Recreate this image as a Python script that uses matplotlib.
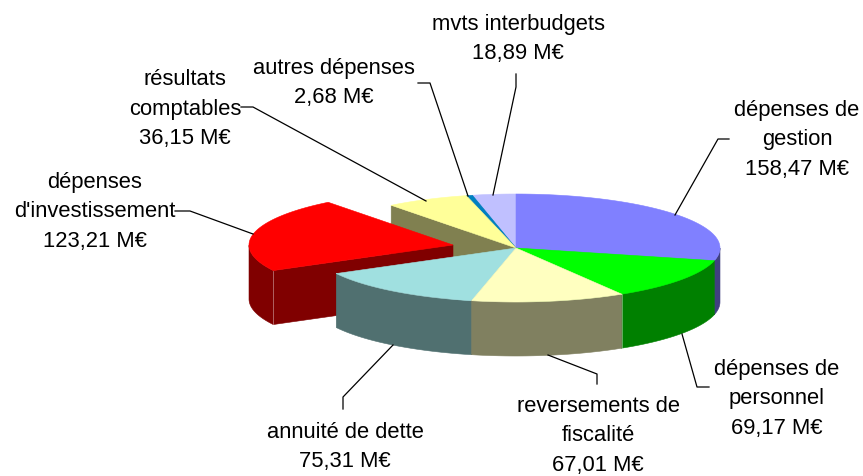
import numpy as np
import matplotlib
matplotlib.use('Agg')
import matplotlib.pyplot as plt

# values in M€, clockwise from the top
names = ['dépenses de\ngestion', 'dépenses de\npersonnel', 'reversements de\nfiscalité',
         'annuité de dette', "dépenses\nd'investissement", 'résultats\ncomptables',
         'autres dépenses', 'mvts interbudgets']
values = [158.47, 69.17, 67.01, 75.31, 123.21, 36.15, 2.68, 18.89]
value_text = ['158,47', '69,17', '67,01', '75,31', '123,21', '36,15', '2,68', '18,89']

# styles and layout, in pixels of the picture
top_colors = ['#8080FF', '#00FF00', '#FFFFC0', '#A0E0E0', '#FF0000', '#FFFF99', '#0080C0', '#C0C0FF']
side_colors = ['#404080', '#008000', '#808060', '#507070', '#800000', '#808050', '#004060', '#606080']
offsets = [(0, 0), (0, 0), (0, 0), (0, 0), (-63, -3), (0, 0), (0, 0), (0, 0)]
draw_order = [7, 6, 5, 0, 4, 3, 1, 2]
label_pos = [(797, 140), (777, 399), (598, 436), (345, 447), (95, 212), (185, 109), (334, 83), (518, 39)]
leaders = [[(675, 216), (718, 140), (729, 140)],
           [(682, 335), (697, 388), (709, 388)],
           [(548, 356), (597, 375), (597, 385)],
           [(393, 346), (343, 398), (343, 410)],
           [(253, 235), (190, 212), (175, 212)],
           [(426, 202), (253, 108), (241, 108)],
           [(468, 197), (430, 84), (418, 84)],
           [(493, 196), (516, 88), (516, 75)]]
cx, cy, rx, ry, depth = 516, 249, 204, 54, 54

plt.rcParams['font.family'] = ['Liberation Sans', 'DejaVu Sans']
fig = plt.figure(figsize=(8.63, 4.77), dpi=100)
ax = fig.add_axes([0, 0, 1, 1])
ax.set_xlim(0, 863)
ax.set_ylim(477, 0)
ax.axis('off')


def rim(a, dx, dy):
    # a in degrees, counter clockwise from east
    r = np.radians(a)
    return cx + dx + rx * np.cos(r), cy + dy - ry * np.sin(r)


def face(xs, ys, col, z):
    ax.fill(xs, ys, color=col, lw=0.4, zorder=z)


# angles run clockwise from 90 degrees
ends = 90 - np.cumsum(values) / np.sum(values) * 360
starts = np.r_[90, ends[:-1]]

for n, i in enumerate(draw_order):
    a1, a2 = starts[i], ends[i]
    dx, dy = offsets[i]
    z = 2 + n
    ox, oy = cx + dx, cy + dy
    # cut faces turned to the viewer
    for a, seen in ((a2, np.cos(np.radians(a2)) > 0), (a1, np.cos(np.radians(a1)) < 0)):
        if seen:
            x, y = rim(a, dx, dy)
            face([ox, x, x, ox], [oy, y, y + depth, oy + depth], side_colors[i], z)
    # outer wall, only the front half of the ellipse
    arc = np.linspace(a1, a2, 200)
    arc = arc[np.sin(np.radians(arc)) < 0]
    if len(arc) > 1:
        x, y = rim(arc, dx, dy)
        face(np.r_[x, x[::-1]], np.r_[y, y[::-1] + depth], side_colors[i], z)
    # top
    arc = np.linspace(a1, a2, 200)
    x, y = rim(arc, dx, dy)
    face(np.r_[ox, x], np.r_[oy, y], top_colors[i], z)
    # pale edge on the front corner
    if np.sin(np.radians(a1)) < 0 and i != 1:
        x, y = rim(a1, dx, dy)
        ax.plot([x, x], [y, y + depth], color='white', lw=0.5, alpha=0.5, zorder=z)

for pts in leaders:
    ax.plot([p[0] for p in pts], [p[1] for p in pts], color='black', lw=0.9, zorder=20)

for i in range(len(names)):
    ax.text(label_pos[i][0], label_pos[i][1], names[i] + '\n' + value_text[i] + ' M€',
            ha='center', va='center', fontsize=15.8, color='black', linespacing=1.52, zorder=21)

fig.savefig('out.png', dpi=100)
